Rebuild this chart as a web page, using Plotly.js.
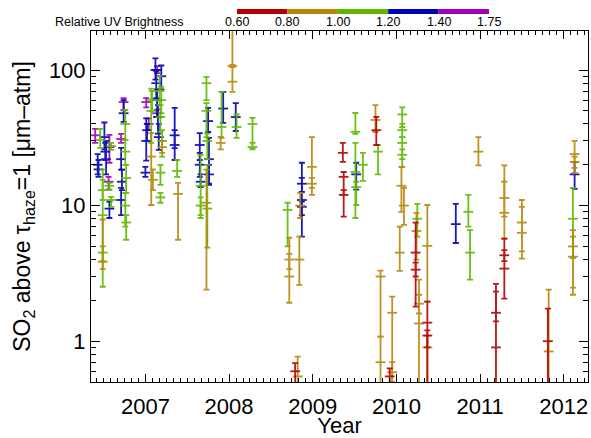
<!DOCTYPE html>
<html>
<head>
<meta charset="utf-8">
<script src="https://cdn.plot.ly/plotly-3.0.1.min.js"></script>
<style>html,body{margin:0;padding:0;background:#fff;}#chart{width:591px;height:438px;}</style>
</head>
<body>
<div id="chart"></div>
<script>
// Brightness classes (legend)
const brightnessEdges = ['0.60', '0.80', '1.00', '1.20', '1.40', '1.75'];
const classColors = ['#b40000', '#b8860b', '#5fb800', '#0000b4', '#a000b4'];

// Red class 0.60-0.80
const redYear = [2008.79, 2009.36, 2009.37, 2009.37, 2009.76, 2009.92, 2010.23, 2010.23, 2010.37, 2010.37, 2011.19, 2011.19, 2011.29, 2011.29, 2011.81];
const redSO2  = [0.6, 24.5, 16.3, 12, 36, 0.55, 4.5, 3.37, 1.37, 1.1, 0.9, 1.62, 3.43, 4.3, 1.0];
const redLow  = [0.45, 21, 12, 8.3, 28, 0.3, 1.8, 3.0, 0.3, 0.9, 0.3, 1.4, 2.06, 3.9, 0.3];
const redHigh = [0.69, 29, 17.7, 13, 45.1, 0.63, 7.5, 3.8, 1.96, 1.2, 2.65, 2.32, 5.7, 4.7, 1.74];

// Gold class 0.80-1.00
const goldYear = [2006.49, 2007.07, 2007.09, 2007.20, 2007.39, 2007.73, 2007.90, 2008.04, 2008.04, 2008.72, 2008.72, 2008.84, 2008.85, 2008.99, 2008.99, 2008.82, 2009.75, 2009.81, 2009.81, 2009.95, 2009.95, 2010.06, 2010.09, 2010.04, 2010.24, 2010.27, 2010.27, 2010.37, 2010.37, 2010.98, 2011.29, 2011.29, 2011.50, 2011.50, 2011.82, 2012.13, 2012.13, 2012.11, 2012.11];
const goldSO2  = [3.85, 23, 15.5, 27, 12.2, 10.5, 29, 82, 107, 3.0, 4.0, 4.0, 10, 19.3, 14.5, 0.55, 42.8, 3.0, 0.7, 1.62, 0.59, 14, 10, 4.5, 6.5, 1.35, 1.89, 5.05, 0.9, 25, 11.4, 8.85, 7.5, 6.3, 0.84, 24, 21, 5.0, 4.2];
const goldLow  = [3.4, 10.1, 13, 24.5, 5.6, 2.4, 26, 69, 105, 1.92, 3.4, 2.6, 8.1, 12, 13.5, 0.4, 34.9, 1.08, 0.3, 0.3, 0.5, 9, 7.2, 3.3, 4, 0.3, 1.6, 1.96, 0.3, 19.8, 8.3, 5.7, 4.06, 4.6, 0.3, 17.4, 19, 2.2, 2.48];
const goldHigh = [7.9, 34.3, 18.5, 30, 14.7, 18.4, 32.1, 250, 109, 5.8, 4.4, 5.9, 12.4, 32, 16, 0.77, 55, 3.31, 1.08, 2.13, 0.7, 19.3, 13.5, 7.0, 8.85, 2.84, 2.2, 10.1, 1.1, 32, 19.8, 15, 11.0, 9.8, 2.4, 30, 23, 6.6, 5.9];

// Green class 1.00-1.20
const greenYear = [2006.46, 2006.49, 2006.49, 2006.49, 2006.59, 2006.59, 2006.57, 2006.76, 2006.76, 2006.77, 2006.76, 2006.77, 2007.07, 2007.08, 2007.17, 2007.18, 2007.20, 2007.19, 2007.18, 2007.18, 2007.38, 2007.66, 2007.66, 2007.73, 2007.73, 2007.74, 2007.74, 2007.91, 2008.09, 2008.28, 2008.28, 2008.70, 2009.51, 2009.51, 2009.52, 2009.60, 2009.78, 2010.07, 2010.07, 2010.07, 2010.07, 2010.25, 2010.86, 2010.88, 2012.11];
const greenSO2  = [30.5, 8.5, 13, 4.5, 27.5, 11.0, 14, 40, 25, 16, 10, 7.5, 50, 60, 70, 45, 30, 60, 17.5, 11.5, 18, 14, 10, 80, 50, 9.5, 30, 38, 38, 40, 27, 9.3, 35, 17.7, 13.7, 20, 25, 47, 29, 23.7, 36, 8, 9, 4.5, 8];
const greenLow  = [26.7, 2.52, 11, 3.9, 25.8, 9.8, 13.1, 30.5, 20, 12.4, 7, 5.6, 29, 50, 55, 35, 23, 48, 14.2, 10.5, 16.3, 8.1, 8.5, 60, 32, 4.9, 22, 31.6, 31.6, 26.7, 26, 5.0, 33.8, 8.1, 10.1, 15.2, 17, 38, 22, 19.3, 32, 5.9, 7.0, 2.84, 4.1];
const greenHigh = [36.8, 18.4, 15.5, 5.0, 29, 11.6, 14.7, 50.7, 30.5, 20, 12.4, 8.5, 73, 70, 90, 55, 36, 75, 20, 12.4, 21.7, 23.7, 11.5, 89, 57, 20, 34, 69, 47, 44.3, 29, 10.5, 48.2, 29, 15, 24.5, 28, 53, 32, 26, 40, 10.3, 12, 6.6, 13.5];

// Blue class 1.20-1.40
const blueYear = [2006.43, 2006.44, 2006.51, 2006.53, 2006.52, 2006.57, 2006.71, 2006.72, 2006.71, 2006.74, 2007.00, 2007.01, 2007.02, 2007.12, 2007.13, 2007.14, 2007.15, 2007.16, 2007.19, 2007.35, 2007.35, 2007.65, 2007.65, 2007.66, 2007.75, 2007.76, 2007.76, 2007.93, 2008.08, 2008.87, 2008.87, 2008.87, 2009.52, 2010.71, 2012.13];
const blueSO2  = [20, 18.5, 32, 22, 25, 9.5, 22, 15, 11, 48, 17.5, 30, 36, 100, 80, 60, 45, 32, 90, 33, 28, 28, 20, 15, 42, 22, 17, 52, 45, 11, 14.5, 9.8, 17, 7.3, 17];
const blueLow  = [17, 16.3, 26, 17, 21.7, 8.1, 18.4, 13, 8.5, 41.4, 16.3, 21.5, 30, 85, 62, 45, 34, 25.8, 72, 21.7, 26.5, 21.7, 16.3, 13.7, 34.9, 14.2, 14.5, 40.7, 35.5, 5.9, 12.6, 8.5, 13.1, 5.3, 13.3];
const blueHigh = [24, 21.7, 41, 30, 29, 10.7, 26.7, 18.4, 13.5, 60, 19.3, 44, 40, 122, 98, 72, 55, 40, 108, 52.5, 36, 34.3, 24.5, 17, 52.5, 31.6, 20, 69, 57, 20.7, 16, 10.7, 20.7, 10.3, 21];

// Purple class 1.40-1.75
const purpleYear = [2006.40, 2006.57, 2006.56, 2006.74, 2006.71, 2007.01, 2007.04, 2007.14, 2007.14];
const purpleSO2  = [33, 27, 15, 58, 31, 58, 40, 100, 48];
const purpleLow  = [29, 20.7, 13.1, 50.7, 29, 53, 36, 95, 45];
const purpleHigh = [36.8, 33.2, 16.3, 62, 33.8, 62, 44, 107, 51];

const yearTicks = [2007, 2008, 2009, 2010, 2011, 2012];
const so2Ticks = [1, 10, 100];

// minor tick positions: months and 2..9 per decade
const monthTicks = [];
for (let m = 2006 * 12; m <= 2012 * 12 + 6; m++) { if (m % 12 !== 0) monthTicks.push(m / 12); }
const decadeMinor = [];
[0.1, 1, 10, 100].forEach(d => { for (let k = 2; k <= 9; k++) decadeMinor.push(d * k); });

function makeTrace(x, y, lo, hi, color) {
  return {
    type: 'scatter', mode: 'markers', x: x, y: y,
    marker: {symbol: 'line-ew', size: 7, color: color, line: {color: color, width: 1.8}},
    error_y: {type: 'data', symmetric: false,
      array: y.map((v, i) => hi[i] - v),
      arrayminus: y.map((v, i) => v - lo[i]),
      color: color, thickness: 1.8, width: 3},
    opacity: 0.9,
    hoverinfo: 'x+y', showlegend: false
  };
}

const traces = [
  makeTrace(purpleYear, purpleSO2, purpleLow, purpleHigh, classColors[4]),
  makeTrace(blueYear, blueSO2, blueLow, blueHigh, classColors[3]),
  makeTrace(greenYear, greenSO2, greenLow, greenHigh, classColors[2]),
  makeTrace(goldYear, goldSO2, goldLow, goldHigh, classColors[1]),
  makeTrace(redYear, redSO2, redLow, redHigh, classColors[0])
];

// Legend strip (paper coordinates)
const stripX0 = 0.2938, segW = 0.1014, stripY0 = 1.0484, stripY1 = 1.0627, labelY = 1.026;
const shapes = classColors.map((c, i) => ({
  type: 'rect', xref: 'paper', yref: 'paper',
  x0: stripX0 + i * segW, x1: stripX0 + (i + 1) * segW, y0: stripY0, y1: stripY1,
  fillcolor: c, line: {width: 0}
}));
const annotations = brightnessEdges.map((t, i) => ({
  text: t, xref: 'paper', yref: 'paper', x: stripX0 + i * segW, y: labelY,
  xanchor: 'center', yanchor: 'middle', showarrow: false,
  font: {size: 12.5, color: '#000'}
}));
annotations.push({
  text: 'Relative UV Brightness', xref: 'paper', yref: 'paper', x: 0.191, y: labelY,
  xanchor: 'right', yanchor: 'middle', showarrow: false, font: {size: 12.5, color: '#000'}
});

const layout = {
  width: 591, height: 438,
  margin: {l: 91, r: 3, t: 31, b: 56},
  paper_bgcolor: '#fff', plot_bgcolor: '#fff',
  font: {family: '"Liberation Sans", Arial, sans-serif', color: '#000', size: 22},
  showlegend: false,
  shapes: shapes,
  annotations: annotations,
  xaxis: {
    range: [2006.35, 2012.29],
    tickmode: 'array', tickvals: yearTicks, ticktext: yearTicks.map(String),
    ticks: 'inside', ticklen: 8, tickwidth: 1, tickcolor: '#000',
    minor: {ticks: 'inside', ticklen: 4, tickwidth: 1, tickcolor: '#000', tickmode: 'array', tickvals: monthTicks, showgrid: false},
    showline: true, linecolor: '#000', linewidth: 1, mirror: 'ticks',
    showgrid: false, zeroline: false,
    ticklabelstandoff: 5,
    tickfont: {size: 22},
    title: {text: 'Year', font: {size: 22}, standoff: 3}
  },
  yaxis: {
    type: 'log',
    range: [Math.log10(0.5), Math.log10(194)],
    tickmode: 'array', tickvals: so2Ticks, ticktext: so2Ticks.map(String),
    ticks: 'inside', ticklen: 9, tickwidth: 1, tickcolor: '#000',
    minor: {ticks: 'inside', ticklen: 5, tickwidth: 1, tickcolor: '#000', tickmode: 'array', tickvals: decadeMinor, showgrid: false},
    showline: true, linecolor: '#000', linewidth: 1, mirror: 'ticks',
    showgrid: false, zeroline: false,
    tickfont: {size: 22},
    title: {text: 'SO<sub>2</sub> above τ<sub>haze</sub>=1 [μm–atm]', font: {size: 23}, standoff: 11}
  }
};

Plotly.newPlot('chart', traces, layout, {staticPlot: true, displayModeBar: false});
</script>
</body>
</html>
